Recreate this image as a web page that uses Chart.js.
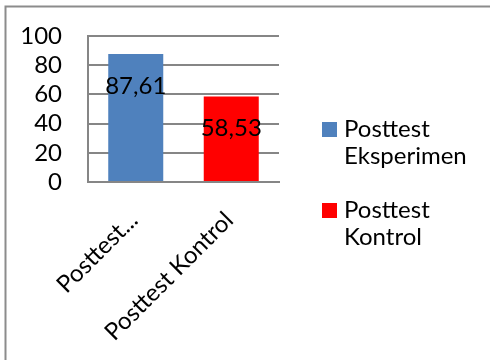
<!DOCTYPE html>
<html><head><meta charset="utf-8">
<script src="https://cdn.jsdelivr.net/npm/chart.js@4/dist/chart.umd.min.js"></script>
<style>html,body{margin:0;padding:0;background:#fff}#wrap{width:490px;height:360px;position:relative}</style>
</head><body><div id="wrap"><canvas id="c" width="490" height="360"></canvas></div>
<script>
const categories = ['Posttest Eksperimen', 'Posttest Kontrol'];
const tickLabels = ['Posttest...', 'Posttest Kontrol'];
const values = [87.61, 58.53];
const valueLabels = ['87,61', '58,53'];
const legendLines = [['Posttest', 'Eksperimen'], ['Posttest', 'Kontrol']];
const colors = ['#4F81BD', '#FF0000'];
const yMin = 0, yMax = 100, yStep = 20;

const FONT = 'Lato';
const FS = 24;
const GRID = '#868686';

const framePlugin = {
  id: 'frame',
  beforeDraw(chart) {
    const ctx = chart.ctx;
    ctx.save();
    ctx.strokeStyle = '#8c8c8c';
    ctx.lineWidth = 2;
    ctx.beginPath();
    ctx.moveTo(5.5, 360);
    ctx.lineTo(5.5, 6.5);
    ctx.lineTo(490, 6.5);
    ctx.stroke();
    ctx.restore();
  }
};

const valueLabelPlugin = {
  id: 'valueLabels',
  afterDatasetsDraw(chart) {
    const ctx = chart.ctx;
    const meta = chart.getDatasetMeta(0);
    ctx.save();
    ctx.font = FS + 'px ' + FONT;
    ctx.fillStyle = '#000';
    ctx.textAlign = 'center';
    ctx.textBaseline = 'middle';
    meta.data.forEach((bar, i) => {
      ctx.fillText(valueLabels[i], bar.x, bar.y + 32);
    });
    ctx.restore();
  }
};

const legendPlugin = {
  id: 'sideLegend',
  afterDraw(chart) {
    const ctx = chart.ctx;
    ctx.save();
    ctx.font = FS + 'px ' + FONT;
    ctx.textAlign = 'left';
    ctx.textBaseline = 'alphabetic';
    categories.forEach((c, i) => {
      const top = 122 + i * 81;
      ctx.fillStyle = colors[i];
      ctx.fillRect(322, top, 15, 15);
      ctx.fillStyle = '#000';
      legendLines[i].forEach((line, j) => {
        ctx.fillText(line, 344, top + 15 + j * 27);
      });
    });
    ctx.restore();
  }
};

new Chart(document.getElementById('c'), {
  type: 'bar',
  data: {
    labels: categories,
    datasets: [{
      label: 'Nilai',
      data: values,
      backgroundColor: colors,
      borderWidth: 0,
      categoryPercentage: 1,
      barPercentage: 0.576
    }]
  },
  options: {
    responsive: false,
    animation: false,
    layout: { padding: { left: 0, top: 36, right: 211, bottom: 0 } },
    plugins: { legend: { display: false }, tooltip: { enabled: false } },
    scales: {
      x: {
        grid: { display: false },
        border: { display: true, color: GRID, width: 2 },
        ticks: {
          autoSkip: false,
          maxRotation: 45,
          minRotation: 45,
          color: '#000',
          font: { family: FONT, size: FS },
          padding: 16,
          labelOffset: -2,
          callback: (v, i) => tickLabels[i]
        },
        afterFit(s) { s.height = 178; }
      },
      y: {
        min: yMin,
        max: yMax,
        grid: { color: GRID, lineWidth: 2, drawTicks: true, tickLength: 22, tickColor: 'rgba(0,0,0,0)' },
        border: { display: true, color: GRID, width: 2 },
        ticks: {
          autoSkip: false,
          stepSize: yStep,
          color: '#000',
          padding: 4,
          font: { family: FONT, size: FS }
        },
        afterFit(s) { s.width = 88; }
      }
    }
  },
  plugins: [framePlugin, valueLabelPlugin, legendPlugin]
});
</script>
</body></html>
